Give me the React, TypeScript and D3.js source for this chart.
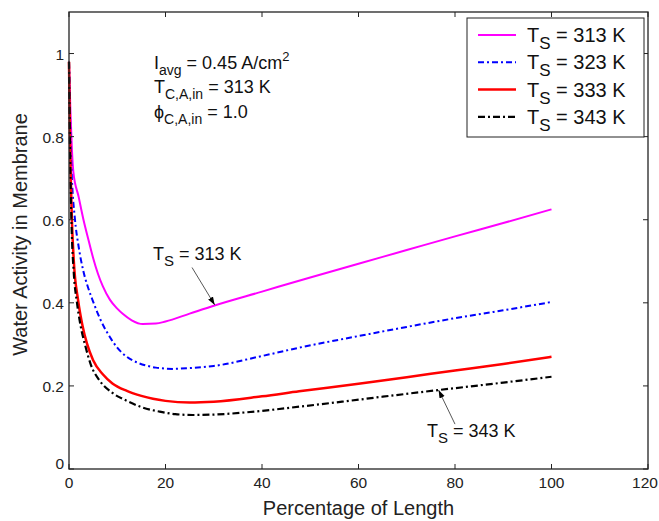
import React from 'react';
import * as d3 from 'd3';

// ---- data ----
const xTicks = [0, 20, 40, 60, 80, 100, 120];
const yTicks = [0, 0.2, 0.4, 0.6, 0.8, 1];
const yTickLabels = ['0', '0.2', '0.4', '0.6', '0.8', '1'];

const seriesNames = ['313 K', '323 K', '333 K', '343 K'];

const x313 = [0, 0.3, 0.6, 0.9, 2, 3, 4, 5, 6, 7, 8.5, 10, 11.2, 13, 15.3, 18, 20, 25, 30, 40, 50, 60, 70, 80, 90, 100];
const y313 = [0.98, 0.86, 0.77, 0.715, 0.655, 0.6, 0.553, 0.508, 0.47, 0.44, 0.407, 0.386, 0.373, 0.358, 0.349, 0.35, 0.355, 0.374, 0.393, 0.427, 0.461, 0.494, 0.527, 0.56, 0.592, 0.625];

const x323 = [0, 0.3, 0.6, 1.2, 2, 2.9, 4, 5, 6.5, 8.5, 10, 12, 14, 16, 18, 21.5, 25, 30, 40, 47.7, 60, 70, 80, 90, 100];
const y323 = [0.98, 0.8, 0.7, 0.605, 0.535, 0.48, 0.435, 0.403, 0.36, 0.317, 0.292, 0.27, 0.257, 0.249, 0.244, 0.241, 0.243, 0.248, 0.272, 0.292, 0.32, 0.342, 0.363, 0.382, 0.402];

const x333 = [0, 0.2, 0.6, 1, 1.9, 2.8, 3.7, 5, 7, 9, 12, 15, 17.4, 20, 25, 30, 40, 47.7, 60, 70, 80, 90, 100];
const y333 = [0.98, 0.8, 0.6, 0.5, 0.405, 0.345, 0.303, 0.262, 0.228, 0.206, 0.188, 0.176, 0.169, 0.164, 0.16, 0.162, 0.175, 0.187, 0.205, 0.221, 0.237, 0.253, 0.27];

const x343 = [0, 0.2, 0.5, 1, 1.6, 2.4, 3.3, 4.5, 6.4, 9, 12, 15, 18.8, 22, 25.6, 30, 40, 47.7, 56.6, 65, 76.6, 90, 100];
const y343 = [0.98, 0.78, 0.6, 0.47, 0.405, 0.345, 0.3, 0.252, 0.212, 0.183, 0.164, 0.149, 0.138, 0.132, 0.13, 0.131, 0.14, 0.15, 0.162, 0.174, 0.19, 0.208, 0.222];

const seriesX = [x313, x323, x333, x343];
const seriesY = [y313, y323, y333, y343];
const seriesColors = ['#ff00ff', '#0000ff', '#ff0000', '#000000'];
const seriesDash = ['none', '6,3,2,3', 'none', '7,3,2,3'];
const seriesWidth = [2, 2, 2.5, 2.2];

// ---- layout ----
const W = 659;
const H = 521;
const L = 69, R = 648, T = 12, B = 469;
const FONT = 'Liberation Sans, Arial, Helvetica, sans-serif';

export default function App() {
  const x = d3.scaleLinear().domain([0, 120]).range([L, R]);
  const y = d3.scaleLinear().domain([0, 1.1]).range([B, T]);

  const line = d3
    .line<[number, number]>()
    .x((d) => x(d[0]))
    .y((d) => y(d[1]))
    .curve(d3.curveMonotoneX);

  const tickLen = 5;

  // legend layout
  const lgX = 467, lgY = 18, lgW = 177, lgH = 119;
  const lgRow0 = 35, lgStep = 27.3;

  return (
    <svg
      width={W}
      height={H}
      style={{ position: 'absolute', left: 0, top: 0, background: '#fff' }}
      fontFamily={FONT}
    >
      <defs>
        <marker id="arr" viewBox="0 0 10 10" refX="10" refY="5" markerWidth="8" markerHeight="8" orient="auto" markerUnits="userSpaceOnUse">
          <path d="M0,1.5 L10,5 L0,8.5 Z" fill="#000" />
        </marker>
      </defs>
      <rect x={0} y={0} width={W} height={H} fill="#fff" />

      {/* curves */}
      {seriesX.map((xs, i) => (
        <path
          key={i}
          d={line(xs.map((v, j) => [v, seriesY[i][j]]) as [number, number][]) || ''}
          fill="none"
          stroke={seriesColors[i]}
          strokeWidth={seriesWidth[i]}
          strokeDasharray={seriesDash[i]}
          strokeLinejoin="round"
        />
      ))}

      {/* frame */}
      <rect x={L} y={T} width={R - L} height={B - T} fill="none" stroke="#222" strokeWidth={1.3} />

      {/* x ticks */}
      {xTicks.map((t) => (
        <g key={'x' + t}>
          <line x1={x(t)} x2={x(t)} y1={B} y2={B - tickLen} stroke="#222" strokeWidth={1} />
          <line x1={x(t)} x2={x(t)} y1={T} y2={T + tickLen} stroke="#222" strokeWidth={1} />
          <text x={Math.min(x(t), W - 14)} y={488} fontSize={15.5} textAnchor="middle" fill="#222">
            {t}
          </text>
        </g>
      ))}

      {/* y ticks */}
      {yTicks.map((t, i) => (
        <g key={'y' + t}>
          <line x1={L} x2={L + tickLen} y1={y(t)} y2={y(t)} stroke="#222" strokeWidth={1} />
          <line x1={R} x2={R - tickLen} y1={y(t)} y2={y(t)} stroke="#222" strokeWidth={1} />
          <text x={64} y={y(t) + (t === 0 ? 0 : 6)} fontSize={15.5} textAnchor="end" fill="#222">
            {yTickLabels[i]}
          </text>
        </g>
      ))}

      {/* axis labels */}
      <text x={(L + R) / 2} y={515} fontSize={20} textAnchor="middle" fill="#222">
        Percentage of Length
      </text>
      <text
        transform={`translate(27, ${(T + B) / 2 - 6}) rotate(-90)`}
        fontSize={20}
        textAnchor="middle"
        fill="#222"
      >
        Water Activity in Membrane
      </text>

      {/* condition block */}
      <g fontSize={18} fill="#111">
        <text x={154} y={69}>
          I<tspan fontSize={14} dy={6}>avg</tspan>
          <tspan dy={-6}> = 0.45 A/cm</tspan>
          <tspan fontSize={13} dy={-8}>2</tspan>
        </text>
        <text x={154} y={93}>
          T<tspan fontSize={14} dy={6}>C,A,in</tspan>
          <tspan dy={-6}> = 313 K</tspan>
        </text>
        <text x={154} y={118}>
          ϕ<tspan fontSize={14} dy={6}>C,A,in</tspan>
          <tspan dy={-6}> = 1.0</tspan>
        </text>
      </g>

      {/* annotation 313 K */}
      <text x={153} y={260} fontSize={18} fill="#111">
        T<tspan fontSize={15} dy={6}>S</tspan>
        <tspan dy={-6}> = 313 K</tspan>
      </text>
      <line x1={x(25.5)} y1={y(0.485)} x2={x(30.2)} y2={y(0.395)} stroke="#444" strokeWidth={0.9} markerEnd="url(#arr)" />

      {/* annotation 343 K */}
      <text x={427} y={437} fontSize={18} fill="#111">
        T<tspan fontSize={15} dy={6}>S</tspan>
        <tspan dy={-6}> = 343 K</tspan>
      </text>
      <line x1={x(80)} y1={y(0.108)} x2={x(76.6)} y2={y(0.19)} stroke="#444" strokeWidth={0.9} markerEnd="url(#arr)" />

      {/* legend */}
      <rect x={lgX} y={lgY} width={lgW} height={lgH} fill="#fff" stroke="#222" strokeWidth={1} />
      {seriesNames.map((n, i) => {
        const yy = lgRow0 + i * lgStep;
        return (
          <g key={'lg' + i}>
            <line
              x1={478}
              x2={516}
              y1={yy}
              y2={yy}
              stroke={seriesColors[i]}
              strokeWidth={seriesWidth[i]}
              strokeDasharray={seriesDash[i]}
            />
            <text x={527} y={yy + 7} fontSize={20} fill="#111">
              T<tspan fontSize={17} dy={7}>S</tspan>
              <tspan dy={-7}> = {n}</tspan>
            </text>
          </g>
        );
      })}
    </svg>
  );
}
